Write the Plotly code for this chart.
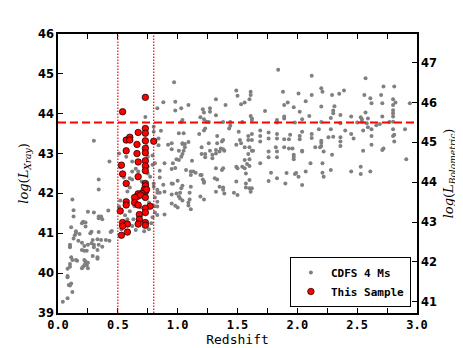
"""
Redshift vs. X-ray luminosity: CDFS 4 Ms field sources with the selected
sample over-plotted, plus the redshift window and bolometric luminosity cut.
"""
import plotly.graph_objects as go

# ── Data ─────────────────────────────────────────────────────────────────────

# CDFS 4 Ms sources (redshift, log L_X)
cdfs_z = [
    0.04, 0.08, 0.12, 0.09, 0.11, 0.10, 0.08, 0.08, 0.08, 0.10, 0.10, 0.12, 0.11, 0.15, 0.16,
    0.20, 0.21, 0.23, 0.22, 0.23, 0.25, 0.24, 0.25, 0.22, 0.29, 0.33, 0.33, 0.20, 0.22, 0.24,
    0.10, 0.10, 0.10, 0.13, 0.14, 0.15, 0.15, 0.18, 0.11, 0.17, 0.20, 0.22, 0.25, 0.28, 0.29,
    0.30, 0.33, 0.30, 0.34, 0.36, 0.37, 0.20, 0.21, 0.23, 0.23, 0.25, 0.30, 0.34, 0.37, 0.36,
    0.34, 0.42, 0.13, 0.13, 0.12, 0.28, 0.27, 0.34, 0.33, 0.40, 0.43, 0.45, 0.44, 0.34, 0.34,
    0.30, 0.43,
    0.51, 0.52, 0.57, 0.62, 0.62, 0.65, 0.60, 0.62, 0.60, 0.63, 0.64, 0.69, 0.69, 0.63, 0.62,
    0.65, 0.52, 0.51, 0.73, 0.80, 0.80, 0.74, 0.75, 0.75, 0.75, 0.79, 0.79, 0.77, 0.76, 0.79,
    0.78, 0.80, 0.80, 0.81, 0.81, 0.81, 0.55, 0.58, 0.70, 0.56, 0.60, 0.53, 0.67, 0.72, 0.76, 0.58, 0.68, 0.84, 0.84,
    1.84, 0.97, 0.88, 0.83, 0.98, 0.98, 1.03, 1.09, 1.21, 1.22, 1.27, 1.27, 1.32, 1.40, 1.19,
    1.22, 1.24, 1.26, 1.32, 1.49, 1.50, 1.61, 1.61, 1.60, 1.56, 1.53, 1.73, 1.61, 1.62, 1.62,
    1.04, 1.03, 1.38, 1.44, 1.44, 1.43, 1.83, 1.83, 1.54, 0.86, 1.01, 1.05, 1.09, 1.04, 1.04,
    1.06, 1.06, 1.05, 1.18, 1.22, 1.23, 1.33, 1.37, 1.33, 1.38, 1.39, 1.38, 1.36, 1.35, 1.32,
    1.26, 1.51, 1.52, 1.53, 1.49, 1.59, 1.59, 1.62, 1.62, 1.56, 1.60, 1.62, 1.69, 1.69, 1.69,
    1.76, 1.76, 1.83, 1.83, 1.82, 0.95, 0.95, 0.92, 1.20, 1.20, 1.23, 1.23, 1.29, 1.29, 1.27, 1.32,
    1.01, 1.04, 1.03, 1.01, 0.99, 0.96, 0.98, 0.95, 0.85, 0.89, 1.12, 1.07, 1.11, 1.13, 1.15,
    1.11, 1.19, 1.20, 1.21, 1.32, 1.37, 1.38, 1.31, 1.33, 1.49, 1.50, 1.54, 1.56, 1.56, 1.58,
    1.60, 1.60, 1.59, 1.63, 1.57, 1.69, 1.76, 1.76, 1.83, 1.83, 1.78, 1.83, 0.85, 0.81,
    0.88, 0.95, 0.96, 1.00, 1.04, 1.03, 1.11, 1.22, 1.22, 0.83, 0.83, 0.85, 0.89, 0.95, 0.99,
    1.02, 1.01, 1.02, 1.04, 1.10, 1.10, 1.09, 1.09, 1.11, 1.19, 1.22, 0.98, 1.00, 0.95, 0.83,
    0.83, 0.83, 0.89, 1.32, 1.35, 1.38, 1.38, 1.39, 1.47, 1.50, 1.49, 1.57, 1.57, 1.60, 1.62, 1.61, 1.60, 1.76,
    2.12, 1.88, 2.01, 2.12, 2.20, 2.21, 2.29, 2.35, 2.39, 2.57, 2.56, 2.61, 2.62, 2.72, 2.70,
    2.81, 2.80, 2.82, 2.80, 2.94, 1.89, 1.92, 1.97, 2.07, 2.02, 1.89, 1.89, 1.98, 2.04, 2.10,
    2.20, 2.20, 2.31, 2.30, 2.30, 2.28, 2.36, 2.36, 2.45, 2.53, 2.54, 2.54, 2.57, 2.59, 2.50,
    2.58, 2.71, 2.71, 2.80, 2.80, 2.80, 2.80, 2.77, 2.66, 2.69, 2.90, 2.80, 2.81, 2.81,
    1.89, 1.89, 1.93, 1.94, 1.93, 1.96, 1.97, 1.97, 1.97, 2.02, 2.02, 2.04, 2.04, 2.04, 2.12,
    2.12, 2.15, 2.18, 2.20, 2.20, 2.20, 2.19, 2.22, 2.26, 2.28, 2.30, 2.29, 2.36, 2.36, 2.36,
    2.40, 2.45, 2.47, 2.55, 2.55, 2.59, 2.62, 2.62, 2.62, 2.72, 2.71, 2.91, 2.80,
    2.11, 2.21, 2.21, 2.22, 2.28, 2.45, 2.53, 2.53, 2.61, 2.07, 1.99, 1.98, 2.01, 1.91, 1.90, 2.04,
]
cdfs_lx = [
    39.28, 39.37, 39.53, 39.70, 39.74, 39.69, 39.93, 39.90, 40.11, 40.16, 40.23, 40.33, 40.40, 40.33, 40.31,
    40.12, 40.16, 40.29, 40.20, 40.25, 40.12, 40.20, 40.26, 40.33, 40.43, 40.40, 40.36, 40.58, 40.56, 40.56,
    40.68, 40.65, 40.71, 40.87, 40.95, 41.01, 41.05, 40.98, 41.15, 40.81, 40.76, 40.68, 40.71, 40.75, 40.83,
    40.65, 40.58, 40.71, 40.71, 40.83, 40.66, 41.25, 41.29, 41.27, 41.17, 41.54, 41.52, 41.38, 41.35, 41.42,
    41.42, 41.57, 41.58, 41.42, 41.85, 41.04, 41.00, 41.03, 40.85, 40.83, 40.81, 41.06, 41.03, 42.35, 42.10,
    43.32, 42.80,
    43.00, 42.66, 42.92, 42.80, 42.55, 42.62, 42.38, 42.35, 42.15, 41.84, 41.68, 41.65, 41.42, 41.35, 41.18,
    41.08, 41.82, 41.67, 43.92, 43.67, 43.55, 43.19, 42.92, 42.67, 42.50, 42.95, 42.72, 42.42, 41.77, 41.40,
    41.25, 42.25, 42.17, 41.90, 41.68, 41.52, 42.40, 42.05, 42.30, 41.45, 41.55, 41.10, 42.55, 41.05, 41.10, 41.35, 41.90, 43.38, 43.21,
    45.10, 44.79, 44.29, 44.14, 44.30, 44.08, 44.14, 44.22, 44.11, 44.03, 44.14, 44.05, 44.36, 44.22, 43.91,
    43.86, 43.80, 43.79, 43.96, 44.58, 44.45, 44.55, 44.47, 44.36, 44.28, 44.24, 44.07, 43.94, 43.88, 43.84,
    43.84, 43.79, 43.79, 43.79, 43.70, 43.63, 43.84, 43.78, 43.79, 43.57, 43.51, 43.51, 43.29, 43.26, 43.24,
    43.24, 43.16, 43.07, 43.49, 43.58, 43.63, 43.44, 43.30, 43.26, 43.34, 43.07, 43.11, 43.13, 43.05, 43.09,
    43.26, 43.55, 43.34, 43.26, 43.22, 43.44, 43.34, 43.34, 43.49, 43.16, 43.16, 43.07, 43.58, 43.44, 43.30,
    43.53, 43.38, 43.49, 43.38, 43.16, 43.26, 43.11, 43.22, 43.16, 42.99, 42.99, 42.91, 42.97, 42.88, 43.07, 43.00,
    43.07, 42.99, 42.92, 42.84, 42.86, 42.76, 42.64, 42.61, 42.57, 42.76, 42.82, 42.59, 42.55, 42.55, 42.52,
    42.46, 42.46, 42.46, 42.35, 42.63, 42.59, 42.63, 42.38, 42.35, 42.67, 42.63, 42.67, 42.84, 42.63, 42.74,
    42.69, 42.86, 42.99, 43.07, 42.50, 42.76, 42.91, 43.05, 42.91, 43.05, 42.52, 42.38, 42.40, 42.76,
    42.22, 42.25, 42.24, 42.32, 42.19, 42.13, 42.17, 42.30, 42.27, 42.09, 42.02, 42.02, 42.04, 41.97, 42.00,
    42.02, 41.92, 41.87, 41.82, 42.02, 41.85, 41.77, 41.70, 41.60, 41.92, 41.85, 41.69, 41.65, 41.75, 41.79,
    41.67, 41.46, 41.47, 42.04, 42.17, 42.15, 42.09, 42.00, 42.02, 41.96, 42.30, 42.25, 42.15, 42.13, 42.13, 42.04, 42.34, 42.31,
    44.95, 44.55, 44.51, 44.47, 44.64, 44.55, 44.47, 44.50, 44.58, 44.89, 44.47, 44.39, 44.26, 44.68, 44.47,
    44.68, 44.36, 44.28, 44.22, 44.26, 44.22, 44.28, 44.16, 44.31, 44.05, 43.93, 43.88, 43.78, 43.86, 43.94,
    44.18, 43.79, 44.19, 44.08, 44.01, 43.89, 43.97, 43.76, 43.93, 43.91, 43.86, 43.80, 44.03, 43.88, 43.78,
    43.76, 43.93, 44.26, 44.09, 44.01, 43.93, 43.80, 43.79, 43.71, 43.74, 43.61, 43.61, 43.47, 43.30,
    43.36, 43.16, 43.36, 43.47, 43.13, 43.13, 42.92, 42.86, 42.97, 43.44, 43.36, 43.07, 43.05, 43.55, 43.49,
    43.39, 43.16, 43.61, 43.32, 43.27, 43.19, 43.16, 43.05, 43.41, 43.61, 43.42, 42.97, 43.30, 43.19, 43.41,
    43.58, 43.49, 43.38, 43.58, 43.07, 43.66, 43.61, 43.44, 43.22, 43.13, 43.09, 42.86, 43.44,
    42.76, 42.76, 42.52, 42.42, 42.59, 42.55, 42.67, 42.49, 42.55, 42.55, 42.51, 42.49, 42.42, 42.51, 42.25, 42.21,
]

# This sample (redshift, log L_X)
sample_z = [
    0.73, 0.54, 0.73, 0.73, 0.67, 0.57, 0.60, 0.60, 0.73, 0.80,
    0.66, 0.73, 0.73, 0.57, 0.66, 0.67, 0.73, 0.73, 0.53, 0.73,
    0.54, 0.67, 0.73, 0.73, 0.57, 0.72, 0.73, 0.74, 0.70, 0.67,
    0.66, 0.69, 0.64, 0.73, 0.57, 0.57, 0.64, 0.67, 0.77, 0.73,
    0.73, 0.52, 0.68, 0.68, 0.67, 0.73, 0.73, 0.54, 0.58, 0.54,
    0.53, 0.58,
]
sample_lx = [
    44.41, 44.05, 43.63, 43.51, 43.53, 43.34, 43.41, 43.34, 43.32, 43.31,
    43.23, 43.13, 43.02, 43.07, 43.00, 42.79, 42.82, 42.69, 42.71, 42.57,
    42.49, 42.42, 42.25, 42.19, 42.25, 42.09, 42.04, 42.10, 42.00, 41.99,
    41.92, 41.96, 41.90, 41.90, 41.79, 41.71, 41.77, 41.71, 41.68, 41.63,
    41.52, 41.56, 41.47, 41.35, 41.23, 41.27, 41.20, 41.27, 41.23, 41.18,
    40.95, 41.03,
]

Z_WINDOW = [0.5, 0.8]      # redshift selection
LBOL_CUT = 45.5            # log L_bol threshold
BOL_OFFSET = 1.72          # log L_bol - log L_X
LX_RANGE = [39, 46]
Z_RANGE = [0, 3]

assert len(cdfs_z) == len(cdfs_lx)
assert len(sample_z) == len(sample_lx)

MONO = "DejaVu Sans Mono"
SANS = "DejaVu Sans"
SERIF = "DejaVu Serif"

# the page body adds an 8px margin around the plot div
PAGE_PAD = 8

# ── Figure ───────────────────────────────────────────────────────────────────

fig = go.Figure()

fig.add_trace(go.Scatter(
    x=cdfs_z, y=cdfs_lx, mode="markers", name="CDFS 4 Ms",
    marker=dict(color="#808080", size=4, line=dict(width=0)),
))
fig.add_trace(go.Scatter(
    x=sample_z, y=sample_lx, mode="markers", name="This Sample",
    marker=dict(color="#ff0000", size=6.5, line=dict(color="black", width=0.7)),
))
# empty trace so the bolometric axis is drawn
fig.add_trace(go.Scatter(x=[], y=[], yaxis="y2", showlegend=False, hoverinfo="skip"))

for z in Z_WINDOW:
    fig.add_shape(type="line", xref="x", yref="paper", x0=z, x1=z, y0=0, y1=1,
                  line=dict(color="#ff0000", width=1.2, dash="1.5px,1.5px"), layer="above")
fig.add_shape(type="line", xref="paper", yref="y2", x0=0, x1=1, y0=LBOL_CUT, y1=LBOL_CUT,
              line=dict(color="#ff0000", width=2, dash="8px,4px"), layer="above")

axis_common = dict(
    showline=True, linecolor="black", linewidth=1.5,
    ticks="inside", ticklen=5, tickcolor="black", tickwidth=1,
    showgrid=False, zeroline=False, automargin=False,
)

fig.update_layout(
    width=463 - PAGE_PAD, height=348 - PAGE_PAD,
    margin=dict(l=58 - PAGE_PAD, r=46, t=34 - PAGE_PAD, b=35),
    paper_bgcolor="white", plot_bgcolor="white",
    showlegend=True,
    legend=dict(
        x=0.983, y=0.0215, xanchor="right", yanchor="bottom",
        bgcolor="white", bordercolor="black", borderwidth=1,
        font=dict(family=MONO, size=11, color="black", weight="bold"),
        itemwidth=30, tracegroupgap=0,
    ),
    xaxis=dict(
        **axis_common, range=Z_RANGE, mirror="ticks",
        tick0=0, dtick=0.5, tickformat=".1f",
        minor=dict(dtick=0.25, ticks="inside", ticklen=5, tickcolor="black"),
        tickfont=dict(family=MONO, size=12, color="black", weight="bold"),
        title=dict(text="Redshift", font=dict(family=MONO, size=13, color="black"), standoff=4),
    ),
    yaxis=dict(
        **axis_common, range=LX_RANGE, dtick=1,
        tickfont=dict(family=SANS, size=11.5, color="black", weight="bold"),
        title=dict(text="<i>log</i>(<i>L</i><sub><i>Xray</i></sub>)",
                   font=dict(family=SERIF, size=13, color="black"), standoff=6),
    ),
    yaxis2=dict(
        **axis_common, overlaying="y", side="right", anchor="x",
        range=[LX_RANGE[0] + BOL_OFFSET, LX_RANGE[1] + BOL_OFFSET], dtick=1,
        tickfont=dict(family=SANS, size=11.5, color="black", weight="bold"),
        title=dict(text="<i>log</i>(<i>L</i><sub><i>Bolometric</i></sub>)",
                   font=dict(family=SERIF, size=13, color="black"), standoff=8),
    ),
)

fig.write_html("out.html")
